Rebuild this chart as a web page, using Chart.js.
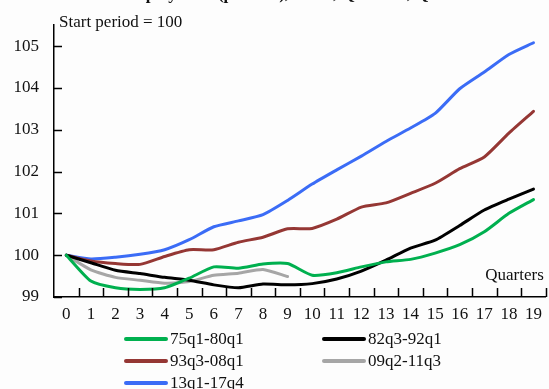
<!DOCTYPE html>
<html>
<head>
<meta charset="utf-8">
<script src="https://cdn.jsdelivr.net/npm/chart.js@4.4.1/dist/chart.umd.min.js"></script>
<style>
  html, body { margin: 0; padding: 0; background: #fdfdfd; }
  #wrap { position: relative; width: 549px; height: 389px; overflow: hidden; }
  canvas { position: absolute; left: 0; top: 0; }
  .leg { position: absolute; font-family: "Liberation Serif", serif; font-size: 17px; color: #111; white-space: nowrap; display: flex; align-items: center; line-height: 17px; }
  .leg .sw { display: inline-block; width: 44px; height: 4px; border-radius: 2px; margin-right: 2px; }
  #title { position: absolute; left: 0; width: 549px; top: -16px; text-align: center; font-family: "Liberation Serif", serif; font-size: 17px; font-weight: bold; color: #111; white-space: nowrap; }
</style>
</head>
<body>
<div id="wrap">
  <canvas id="c" width="549" height="389"></canvas>
  <div id="title">Employment (persons), index, Q1 = 100, Q</div>
</div>
<script>
const categories = ["0","1","2","3","4","5","6","7","8","9","10","11","12","13","14","15","16","17","18","19"];
const seriesNames = ["75q1-80q1", "82q3-92q1", "93q3-08q1", "09q2-11q3", "13q1-17q4"];
const s75q1_80q1 = [100, 99.38, 99.22, 99.18, 99.22, 99.45, 99.72, 99.69, 99.79, 99.80, 99.52, 99.58, 99.72, 99.84, 99.90, 100.05, 100.25, 100.56, 101.00, 101.33];
const s82q3_92q1 = [100, 99.82, 99.64, 99.56, 99.47, 99.40, 99.29, 99.22, 99.31, 99.29, 99.32, 99.43, 99.62, 99.88, 100.17, 100.36, 100.71, 101.08, 101.34, 101.58];
const s93q3_08q1 = [100, 99.86, 99.80, 99.78, 99.97, 100.13, 100.13, 100.31, 100.43, 100.63, 100.64, 100.86, 101.15, 101.25, 101.48, 101.72, 102.07, 102.35, 102.92, 103.44];
const s09q2_11q3 = [100, 99.65, 99.47, 99.40, 99.33, 99.37, 99.52, 99.57, 99.66, 99.49];
const s13q1_17q4 = [100, 99.91, 99.95, 100.02, 100.13, 100.37, 100.68, 100.82, 100.97, 101.31, 101.70, 102.04, 102.37, 102.72, 103.04, 103.39, 103.98, 104.38, 104.80, 105.08];
const yTicks = [99, 100, 101, 102, 103, 104, 105];
const colors = ["#00b04f", "#000000", "#953734", "#a6a6a6", "#3b6cf6"];
const seriesValues = [s75q1_80q1, s82q3_92q1, s93q3_08q1, s09q2_11q3, s13q1_17q4];

const FONT = { family: "Liberation Serif", size: 17 };

const annotPlugin = {
  id: 'annot',
  afterDraw(chart) {
    const ctx = chart.ctx;
    const a = chart.chartArea;
    const xs = chart.scales.x, ys = chart.scales.y;
    ctx.save();
    ctx.strokeStyle = '#000';
    ctx.lineWidth = 1.5;
    ctx.beginPath();
    yTicks.forEach(v => {
      const y = Math.round(ys.getPixelForValue(v)) + 0.5;
      ctx.moveTo(a.left, y); ctx.lineTo(a.left + 8, y);
    });
    const half = (xs.getPixelForValue(1) - xs.getPixelForValue(0)) / 2;
    categories.forEach((c, i) => {
      const x = Math.round(xs.getPixelForValue(i) + half) + 0.5;
      ctx.moveTo(x, a.bottom); ctx.lineTo(x, a.bottom - 9);
    });
    ctx.stroke();
    ctx.fillStyle = '#111';
    ctx.font = '17px "Liberation Serif"';
    ctx.textBaseline = 'middle';
    ctx.textAlign = 'left';
    ctx.fillText('Start period = 100', a.left + 5, 23);
    ctx.textAlign = 'right';
    ctx.fillText('Quarters', a.right - 2, a.bottom - 21);
    ctx.restore();
  }
};

const datasets = seriesNames.map((n, i) => ({
  label: n,
  data: seriesValues[i],
  borderColor: colors[i],
  backgroundColor: colors[i],
  borderWidth: 3,
  pointRadius: 0,
  tension: 0.2,
  fill: false,
  borderCapStyle: 'round',
  borderJoinStyle: 'round'
}));

new Chart(document.getElementById('c'), {
  type: 'line',
  data: { labels: categories, datasets },
  options: {
    responsive: false,
    animation: false,
    layout: { padding: { left: 0, right: 0.5, top: 22, bottom: 67 } },
    plugins: { legend: { display: false }, tooltip: { enabled: false } },
    scales: {
      x: {
        type: 'category',
        offset: true,
        grid: { display: false, drawTicks: false, offset: true },
        border: { display: true, color: '#000', width: 1.5 },
        ticks: { font: FONT, color: '#111', padding: 7, maxRotation: 0, autoSkip: false },
        afterFit(s) { s.height = 25; }
      },
      y: {
        min: 99, max: 105.5,
        grid: { display: false, drawTicks: false },
        border: { display: true, color: '#000', width: 1.5 },
        ticks: { stepSize: 1, includeBounds: false, font: FONT, color: '#111', padding: 15 },
        afterFit(s) { s.width = 54; }
      }
    }
  },
  plugins: [annotPlugin]
});

// HTML legend built from series names/colours
const wrap = document.getElementById('wrap');
const legPos = [[124, 339], [322, 339], [124, 361], [322, 361], [124, 383]];
seriesNames.forEach((n, i) => {
  const d = document.createElement('div');
  d.className = 'leg';
  d.style.left = legPos[i][0] + 'px';
  d.style.top = (legPos[i][1] - 9) + 'px';
  const sw = document.createElement('span');
  sw.className = 'sw';
  sw.style.background = colors[i];
  d.appendChild(sw);
  d.appendChild(document.createTextNode(n));
  wrap.appendChild(d);
});
</script>
</body>
</html>
